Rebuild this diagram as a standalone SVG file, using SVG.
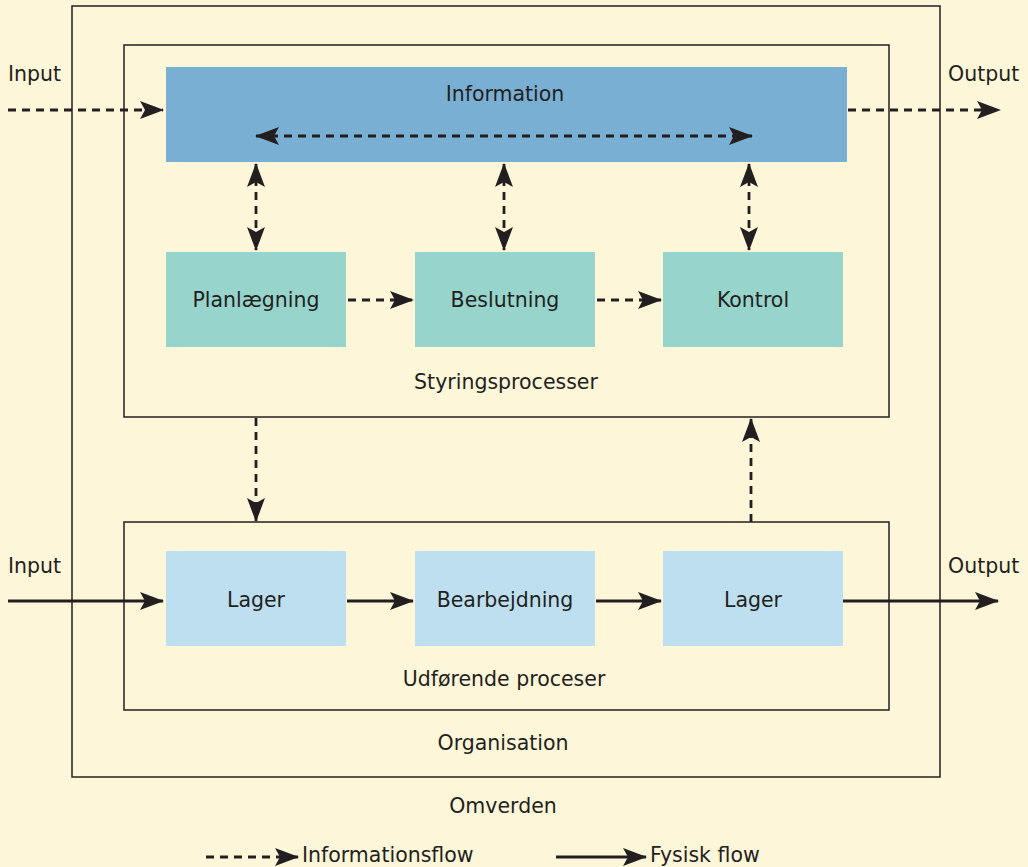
<svg xmlns="http://www.w3.org/2000/svg" width="1028" height="867" viewBox="0 0 1028 867">
  <defs>
    <style>
      .frame { fill: none; stroke: #231f20; stroke-width: 1.5; }
      .info { fill: #7aafd4; }
      .ctrl { fill: #97d5cc; }
      .exec { fill: #bedff0; }
      .lbl { font-family: "DejaVu Sans", "Liberation Sans", sans-serif; font-size: 20.5px; fill: #231f20; }
      .mid { text-anchor: middle; }
      .dash { fill: none; stroke: #231f20; stroke-width: 2.8; stroke-dasharray: 8 6; }
      .solid { fill: none; stroke: #231f20; stroke-width: 2.8; }
    </style>
    <marker id="head" markerUnits="userSpaceOnUse" markerWidth="24" markerHeight="18" refX="23" refY="9" orient="auto-start-reverse" viewBox="0 0 24 18">
      <path d="M0,0 L24,9 L0,18 L5,9 Z" fill="#231f20"/>
    </marker>
  </defs>

  <rect width="1028" height="867" fill="#fef6d9"/>

  <!-- Enclosing frames -->
  <g id="organisation">
    <rect class="frame" x="72" y="6" width="868" height="771"/>
    <text class="lbl mid" x="503" y="750">Organisation</text>
  </g>
  <g id="styringsprocesser">
    <rect class="frame" x="124" y="45" width="765" height="372"/>
    <text class="lbl mid" x="506" y="389">Styringsprocesser</text>
  </g>
  <g id="udfoerende">
    <rect class="frame" x="124" y="522" width="765" height="188"/>
    <text class="lbl mid" x="504" y="686">Udførende proceser</text>
  </g>
  <text class="lbl mid" x="503" y="813">Omverden</text>

  <!-- Nodes -->
  <g id="information">
    <rect class="info" x="166" y="67" width="681" height="95"/>
    <text class="lbl mid" x="505" y="101">Information</text>
  </g>
  <g id="planlaegning">
    <rect class="ctrl" x="166" y="252" width="180" height="95"/>
    <text class="lbl mid" x="256" y="307">Planlægning</text>
  </g>
  <g id="beslutning">
    <rect class="ctrl" x="415" y="252" width="180" height="95"/>
    <text class="lbl mid" x="505" y="307">Beslutning</text>
  </g>
  <g id="kontrol">
    <rect class="ctrl" x="663" y="252" width="180" height="95"/>
    <text class="lbl mid" x="753" y="307">Kontrol</text>
  </g>
  <g id="lager-ind">
    <rect class="exec" x="166" y="551" width="180" height="95"/>
    <text class="lbl mid" x="256" y="607">Lager</text>
  </g>
  <g id="bearbejdning">
    <rect class="exec" x="415" y="551" width="180" height="95"/>
    <text class="lbl mid" x="505" y="607">Bearbejdning</text>
  </g>
  <g id="lager-ud">
    <rect class="exec" x="663" y="551" width="180" height="95"/>
    <text class="lbl mid" x="753" y="607">Lager</text>
  </g>

  <!-- Boundary labels -->
  <text class="lbl" x="8" y="81">Input</text>
  <text class="lbl" x="948" y="81">Output</text>
  <text class="lbl" x="8" y="573">Input</text>
  <text class="lbl" x="948" y="573">Output</text>

  <!-- Connectors -->
  <g id="connectors">
    <!-- information flow -->
    <path class="dash" d="M8,110 H163" marker-end="url(#head)"/>
    <path class="dash" d="M848,110 H1000" marker-end="url(#head)"/>
    <path class="dash" d="M256,136 H752" marker-start="url(#head)" marker-end="url(#head)"/>
    <path class="dash" d="M256,164 V250" marker-start="url(#head)" marker-end="url(#head)"/>
    <path class="dash" d="M504,164 V250" marker-start="url(#head)" marker-end="url(#head)"/>
    <path class="dash" d="M749,164 V250" marker-start="url(#head)" marker-end="url(#head)"/>
    <path class="dash" d="M348,300 H413" marker-end="url(#head)"/>
    <path class="dash" d="M597,300 H661" marker-end="url(#head)"/>
    <path class="dash" d="M256,418 V521" marker-end="url(#head)"/>
    <path class="dash" d="M751,522 V419" marker-end="url(#head)"/>
    <!-- physical flow -->
    <path class="solid" d="M8,601 H163" marker-end="url(#head)"/>
    <path class="solid" d="M347,601 H413" marker-end="url(#head)"/>
    <path class="solid" d="M596,601 H661" marker-end="url(#head)"/>
    <path class="solid" d="M843,601 H998" marker-end="url(#head)"/>
  </g>

  <!-- Legend -->
  <g id="legend">
    <path class="dash" d="M206,857 H298" marker-end="url(#head)"/>
    <text class="lbl" x="302" y="862">Informationsflow</text>
    <path class="solid" d="M556,857 H646" marker-end="url(#head)"/>
    <text class="lbl" x="650" y="862">Fysisk flow</text>
  </g>
</svg>
